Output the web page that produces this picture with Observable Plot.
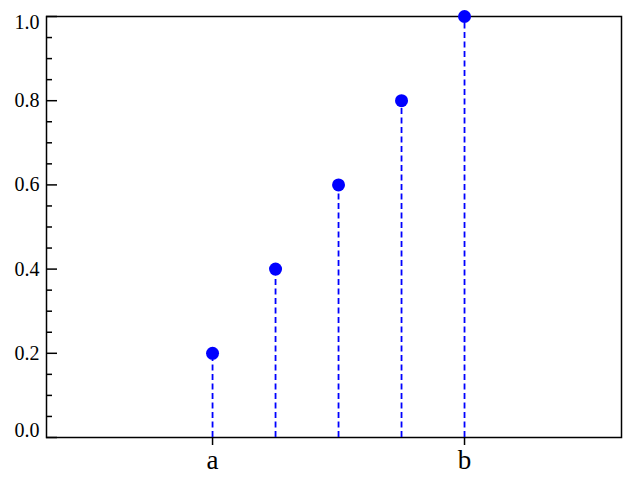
<!DOCTYPE html>
<html>
<head>
<meta charset="utf-8">
<script src="https://cdn.jsdelivr.net/npm/d3@7"></script>
<script src="https://cdn.jsdelivr.net/npm/@observablehq/plot@0.6"></script>
<style>
  html, body { margin: 0; padding: 0; background: #fff; }
  svg { display: block; }
  svg text { font-family: 'Liberation Serif', 'Times New Roman', serif; }
</style>
</head>
<body>
<div id="chart"></div>
<script>
const xPositions = [0, 0.25, 0.5, 0.75, 1];
const yValues = [0.2, 0.4, 0.6, 0.8, 1.0];
const xTickValues = [0, 1];
const xTickLabels = ["a", "b"];
const yTicks = [0, 0.2, 0.4, 0.6, 0.8, 1.0];
const yMinorTicks = [0.05, 0.1, 0.15, 0.25, 0.3, 0.35, 0.45, 0.5, 0.55, 0.65, 0.7, 0.75, 0.85, 0.9, 0.95];
const xDomain = [-0.659, 1.623];

const points = xPositions.map((x, i) => ({x, y: yValues[i]}));
const fmt = d3.format(".1f");
const blue = "#0000ff";
const font = "'Liberation Serif', 'Times New Roman', serif";
const labelOpts = {y: d => d, text: d => fmt(d), frameAnchor: "left", textAnchor: "end", dx: -7, fontSize: 20, fontFamily: font, fill: "black"};

const chart = Plot.plot({
  width: 640,
  height: 480,
  marginLeft: 46,
  marginRight: 19,
  marginTop: 16,
  marginBottom: 43,
  style: {fontFamily: font, background: "#fff"},
  x: {domain: xDomain, label: null},
  y: {domain: [0, 1], label: null},
  marks: [
    Plot.frame({stroke: "black", strokeWidth: 1.5}),
    Plot.axisY({ticks: yTicks, tickSize: -11, text: null, label: null, strokeWidth: 1.5}),
    Plot.axisY({ticks: yMinorTicks, tickSize: -6, text: null, label: null, strokeWidth: 1.5}),
    Plot.text(yTicks.filter(d => d > 0 && d < 1), {...labelOpts}),
    Plot.text(yTicks.filter(d => d === 1), {...labelOpts, dy: 5.7}),
    Plot.text(yTicks.filter(d => d === 0), {...labelOpts, dy: -6.7}),
    Plot.axisX({ticks: xTickValues, tickFormat: d => xTickLabels[xTickValues.indexOf(d)], tickSize: 8, tickPadding: 4, fontSize: 27, fontFamily: font, strokeWidth: 1.5, label: null}),
    Plot.ruleX(points, {x: "x", y1: 0, y2: "y", stroke: blue, strokeWidth: 1.8, strokeDasharray: "6,3.5"}),
    Plot.dot(points, {x: "x", y: "y", r: 6.5, fill: blue, stroke: "none"})
  ]
});
document.getElementById("chart").appendChild(chart);
</script>
</body>
</html>
